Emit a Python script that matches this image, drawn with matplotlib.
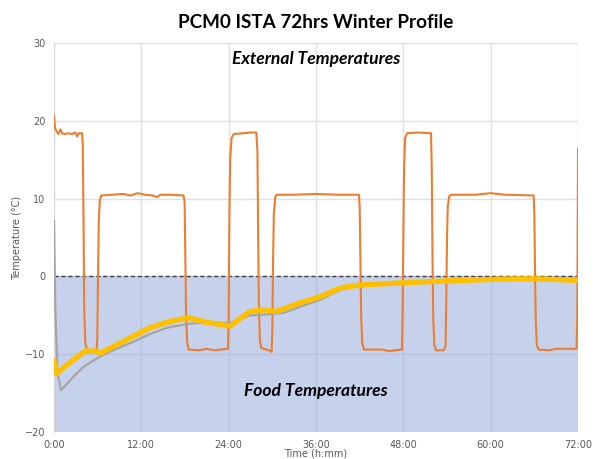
import matplotlib
matplotlib.use("Agg")
import matplotlib.pyplot as plt

# ---- data ----
ext_t = [0.0, 0.15, 0.4, 0.6, 0.9, 1.1, 1.5, 2.0, 2.5, 2.9, 3.2, 3.4, 3.85, 3.95, 4.05, 4.15, 4.3, 4.5,
         5.0, 5.5, 5.85, 5.95, 6.05, 6.15, 6.3, 6.5, 8.0, 9.5, 10.5, 11.5, 12.5, 13.5, 14.2, 14.6, 16.0,
         17.8, 17.95, 18.05, 18.15, 18.3, 18.5, 20.0, 21.0, 22.0, 23.9, 24.0, 24.1, 24.2, 24.4, 24.7,
         26.0, 27.0, 27.8, 27.95, 28.05, 28.15, 28.3, 28.5, 29.5, 29.9, 30.0, 30.1, 30.2, 30.4, 30.6,
         33.0, 36.0, 39.0, 41.9, 42.0, 42.1, 42.2, 42.35, 42.6, 45.0, 46.0, 47.8, 47.9, 48.0, 48.1,
         48.25, 48.5, 50.0, 51.8, 51.9, 52.0, 52.1, 52.25, 52.5, 53.5, 53.8, 53.9, 54.0, 54.1, 54.3,
         54.6, 58.0, 60.0, 62.0, 65.9, 66.0, 66.1, 66.2, 66.35, 66.6, 68.0, 69.0, 71.8, 71.9, 72.0]
ext_v = [20.6, 19.0, 18.6, 18.3, 18.9, 18.4, 18.3, 18.4, 18.3, 18.5, 18.0, 18.4, 18.4, 17.0, 8.0, -4.0, -8.5, -9.3,
         -9.5, -9.4, -9.5, -8.0, 0.0, 7.0, 9.8, 10.4, 10.5, 10.6, 10.4, 10.7, 10.5, 10.4, 10.2, 10.5, 10.5,
         10.4, 9.5, 2.0, -5.0, -8.5, -9.4, -9.5, -9.3, -9.5, -9.3, -5.0, 8.0, 15.0, 17.8, 18.3,
         18.4, 18.5, 18.5, 16.0, 5.0, -4.0, -8.3, -9.2, -9.5, -9.7, -7.0, 2.0, 8.0, 10.2, 10.5,
         10.5, 10.6, 10.5, 10.5, 9.0, 2.0, -5.0, -8.6, -9.4, -9.4, -9.6, -9.4, -5.0, 5.0, 14.0,
         17.8, 18.4, 18.5, 18.4, 14.0, 3.0, -5.0, -8.8, -9.5, -9.5, -9.0, -3.0, 5.0, 9.0, 10.3,
         10.5, 10.5, 10.7, 10.5, 10.4, 8.0, 0.0, -6.0, -8.9, -9.4, -9.5, -9.3, -9.3, -5.0, 16.4]

food1_t = [0.0, 0.37, 1.5, 3.0, 4.3, 5.9, 6.3, 8.6, 10.9, 13.2, 15.5, 18.4, 21.0, 24.2, 26.9, 28.7,
           30.6, 33.8, 36.6, 39.3, 42.0, 47.5, 52.0, 61.2, 65.8, 72.0]
food1_v = [-10.8, -12.5, -11.6, -10.5, -9.6, -9.6, -9.9, -8.8, -7.7, -6.6, -5.9, -5.3, -5.9, -6.4, -4.5, -4.3,
           -4.5, -3.4, -2.6, -1.5, -1.1, -0.85, -0.65, -0.35, -0.3, -0.5]

food2_t = [0.0, 0.2, 0.5, 0.96, 1.6, 2.65, 4.1, 6.3, 8.6, 10.9, 13.2, 15.5, 18.4, 21.0, 24.2, 26.9,
           29.2, 31.5, 33.8, 36.6, 39.3, 42.0, 47.5, 52.0, 61.2, 65.8, 72.0]
food2_v = [7.1, -5.0, -12.5, -14.6, -14.0, -12.9, -11.6, -10.3, -9.3, -8.4, -7.4, -6.6, -6.1, -5.9, -6.0, -5.0,
           -4.9, -4.7, -3.9, -3.0, -1.7, -1.2, -0.95, -0.75, -0.45, -0.4, -0.6]

x_ticks = [0, 12, 24, 36, 48, 60, 72]
x_labels = ["0:00", "12:00", "24:00", "36:00", "48:00", "60:00", "72:00"]
y_ticks = [-20, -10, 0, 10, 20, 30]

# ---- figure ----
fig = plt.figure(figsize=(5.98, 4.59), dpi=100)
ax = fig.add_axes([0.0903, 0.0588, 0.8763, 0.8475])

ax.set_xlim(0, 72)
ax.set_ylim(-20, 30)
ax.set_xticks(x_ticks)
ax.set_xticklabels(x_labels)
ax.set_yticks(y_ticks)
ax.grid(True, color="#E0E0E0", linewidth=1.0, zorder=0)
ax.set_axisbelow(True)
for s in ["top", "right", "bottom"]:
    ax.spines[s].set_visible(False)
ax.spines["left"].set_color("#D9D9D9")
ax.tick_params(length=0, labelsize=7, colors="#595959", pad=6)

ax.axhspan(-20, 0, color="#8FA5D9", alpha=0.5, lw=0, zorder=1)
ax.axhline(0, color="#404040", lw=1.0, ls=(0, (3, 2)), zorder=2)

ax.plot(ext_t, ext_v, color="#ED7D31", lw=1.5, zorder=3)
ax.plot(food2_t, food2_v, color="#A5A5A5", lw=1.6, zorder=4)
ax.plot(food1_t, food1_v, color="#FFC000", lw=3.8, zorder=5, solid_capstyle="round")

ax.set_ylabel("Temperature (°C)", fontsize=7, color="#595959", labelpad=2)
ax.set_xlabel("Time (h:mm)", fontsize=7, color="#595959", labelpad=-1)

ax.set_title("PCM0 ISTA 72hrs Winter Profile", fontsize=13.6, fontweight="bold",
             family="Lato", pad=11)
ax.text(36, 27.9, "External Temperatures", fontsize=12.6, fontweight="bold",
        fontstyle="italic", family="Lato", ha="center", va="center", zorder=6)
ax.text(36, -14.7, "Food Temperatures", fontsize=12.6, fontweight="bold",
        fontstyle="italic", family="Lato", ha="center", va="center", zorder=6)

fig.savefig("out.png", dpi=100)
